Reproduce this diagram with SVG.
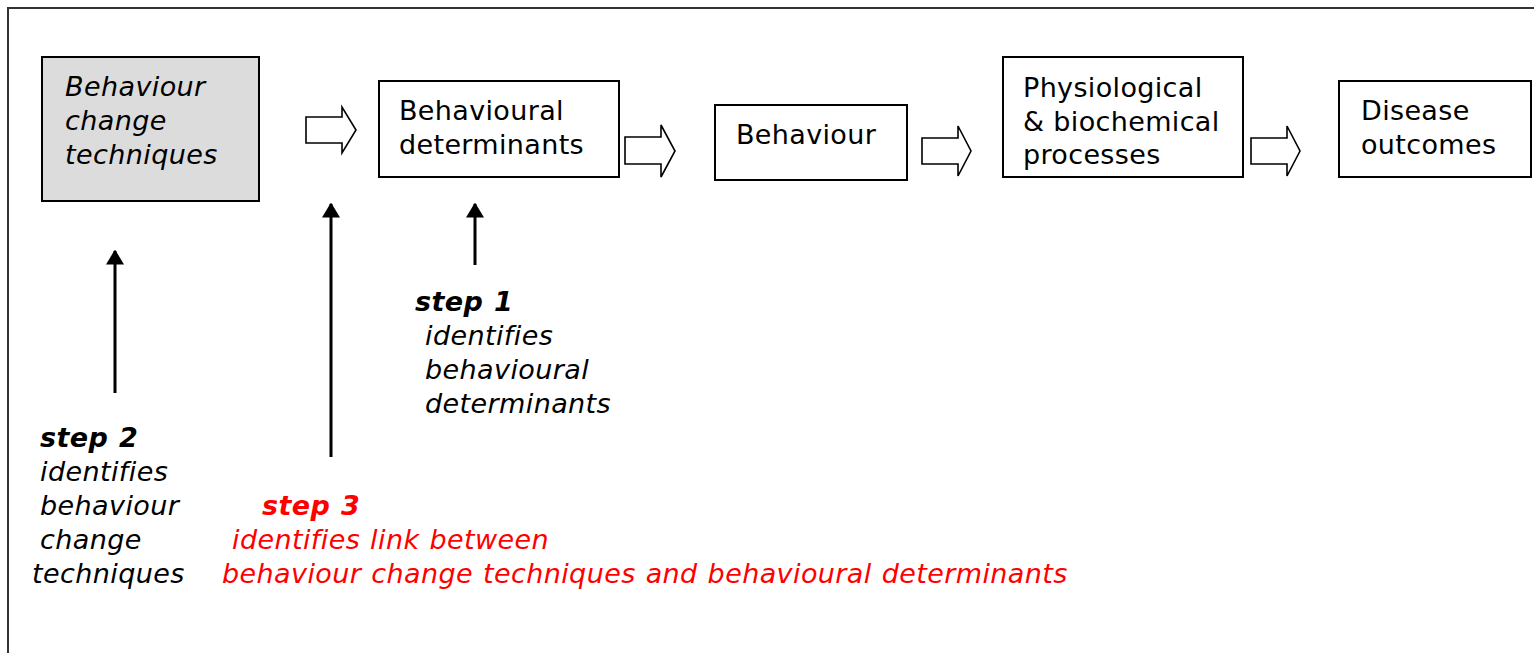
<svg xmlns="http://www.w3.org/2000/svg" width="1534" height="653" viewBox="0 0 1534 653">
<style>
.box{fill:#fff;stroke:#000;stroke-width:2}
.grey{fill:#dcdcdc}
.t{font-family:"DejaVu Sans",Verdana,sans-serif;font-size:27px;fill:#000;letter-spacing:0.35px}
.i{font-style:italic;letter-spacing:0.4px;word-spacing:1px}
.b{font-weight:bold}
.red{fill:#ff0000}
.block{fill:#fff;stroke:#000;stroke-width:1.6;stroke-linejoin:miter}
.thin{stroke:#000;stroke-width:3;fill:none}
</style>
<defs>
<marker id="ah" markerWidth="5" markerHeight="6" refX="4.5" refY="3" orient="auto" markerUnits="strokeWidth">
<path d="M0,0 L5,3 L0,6 Z" fill="#000"/>
</marker>
</defs>
<rect x="8" y="8" width="1540" height="660" fill="none" stroke="#333" stroke-width="2"/>
<g id="n1">
<rect class="box grey" x="42" y="57" width="217" height="144"/>
<text class="t i" x="65" y="96">Behaviour</text>
<text class="t i" x="65" y="130">change</text>
<text class="t i" x="65" y="164">techniques</text>
</g>
<g id="n2">
<rect class="box" x="379" y="81" width="240" height="96"/>
<text class="t" x="399" y="120">Behavioural</text>
<text class="t" x="399" y="154">determinants</text>
</g>
<g id="n3">
<rect class="box" x="715" y="105" width="192" height="75"/>
<text class="t" x="736" y="144">Behaviour</text>
</g>
<g id="n4">
<rect class="box" x="1003" y="57" width="240" height="120"/>
<text class="t" x="1023" y="97">Physiological</text>
<text class="t" x="1023" y="131">&amp; biochemical</text>
<text class="t" x="1023" y="164">processes</text>
</g>
<g id="n5">
<rect class="box" x="1339" y="81" width="192" height="96"/>
<text class="t" x="1361" y="120">Disease</text>
<text class="t" x="1361" y="154">outcomes</text>
</g>
<g id="step1">
<text class="t i b" x="415" y="311">step 1</text>
<text class="t i" x="425" y="345">identifies</text>
<text class="t i" x="425" y="379">behavioural</text>
<text class="t i" x="425" y="413">determinants</text>
</g>
<g id="step2">
<text class="t i b" x="40" y="447">step 2</text>
<text class="t i" x="40" y="481">identifies</text>
<text class="t i" x="40" y="515">behaviour</text>
<text class="t i" x="40" y="549">change</text>
<text class="t i" x="32" y="583">techniques</text>
</g>
<g id="step3">
<text class="t i b red" x="262" y="515">step 3</text>
<text class="t i red" x="232" y="549">identifies link between</text>
<text class="t i red" x="222" y="583">behaviour change techniques and behavioural determinants</text>
</g>
<g id="connectors">
<path class="block" d="M306,117 H342 V107 L356,130 L342,153 V143 H306 Z"/>
<path class="block" d="M625,137 H661 V125 L675,151 L661,177 V164 H625 Z"/>
<path class="block" d="M922,138 H958 V126 L971,151 L958,176 V164 H922 Z"/>
<path class="block" d="M1251,138 H1287 V126 L1300,151 L1287,176 V164 H1251 Z"/>
<line class="thin" x1="115" y1="393" x2="115" y2="251" marker-end="url(#ah)"/>
<line class="thin" x1="331" y1="457" x2="331" y2="204" marker-end="url(#ah)"/>
<line class="thin" x1="475" y1="265" x2="475" y2="204" marker-end="url(#ah)"/>
</g>
</svg>
